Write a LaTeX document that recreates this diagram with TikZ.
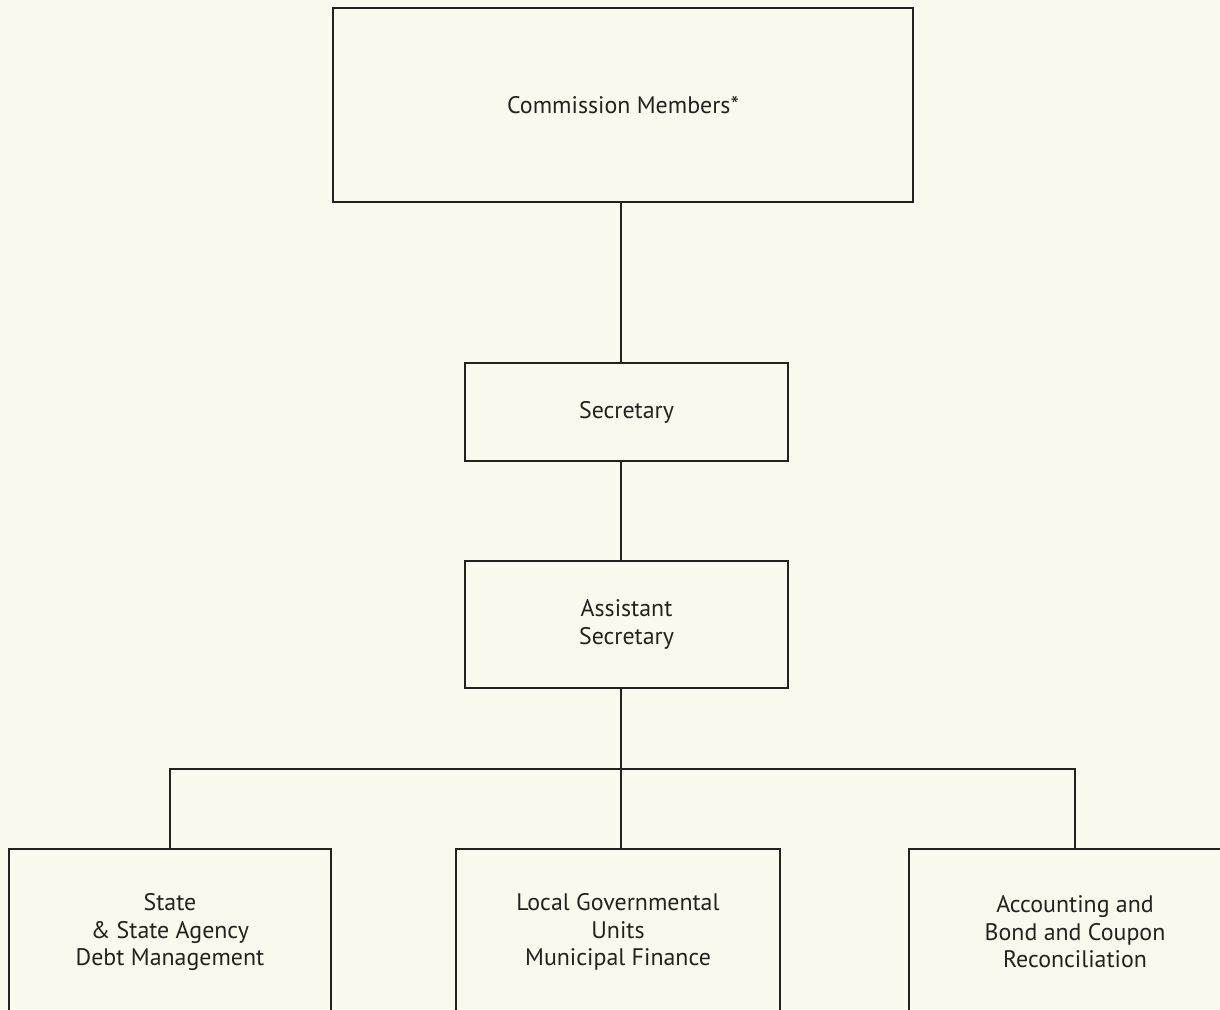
\documentclass[tikz,border=0pt]{standalone}
\usepackage{fontspec}
\setmainfont{PT Sans}
\usetikzlibrary{positioning}
\definecolor{paper}{RGB}{250,249,237}
\definecolor{ink}{RGB}{34,34,32}

\begin{document}
\begin{tikzpicture}[x=0.025cm,y=-0.025cm,
  every node/.style={font=\fontsize{17}{19.5}\selectfont,text=ink,align=center},
  unit/.style={draw=ink,line width=1.2pt,rectangle,inner sep=0pt},
  link/.style={draw=ink,line width=1.1pt}]
  \useasboundingbox (0,0) rectangle (1220,1009);
  \clip (0,0) rectangle (1220,1009);
  \fill[paper] (0,0) rectangle (1220,1009);

  \node[unit,minimum width=14.5cm,minimum height=4.85cm]    (cm)    at (623,105)   {Commission Members*};
  \node[unit,minimum width=8.075cm,minimum height=2.45cm]   (sec)   at (626.5,412) {Secretary};
  \node[unit,minimum width=8.075cm,minimum height=3.175cm]  (asst)  at (626.5,624.5) {Assistant\\Secretary};
  \node[unit,minimum width=8.05cm,minimum height=4.15cm]    (state) at (170,932)   {State\\\& State Agency\\Debt Management};
  \node[unit,minimum width=8.1cm,minimum height=4.15cm]     (local) at (618,932)   {Local Governmental\\Units\\Municipal Finance};
  \node[unit,minimum width=8.3cm,minimum height=4.15cm]     (acct)  at (1075,932)  {Accounting and\\Bond and Coupon\\Reconciliation};
  \coordinate (bar) at (621,769);

  \draw[link] (cm.south -| bar) -- (sec.north -| bar);
  \draw[link] (sec.south -| bar) -- (asst.north -| bar);
  \draw[link] (asst.south -| bar) -- (local.north -| bar);
  \draw[link] (state.north) |- (bar) -| (acct.north);
\end{tikzpicture}
\end{document}
